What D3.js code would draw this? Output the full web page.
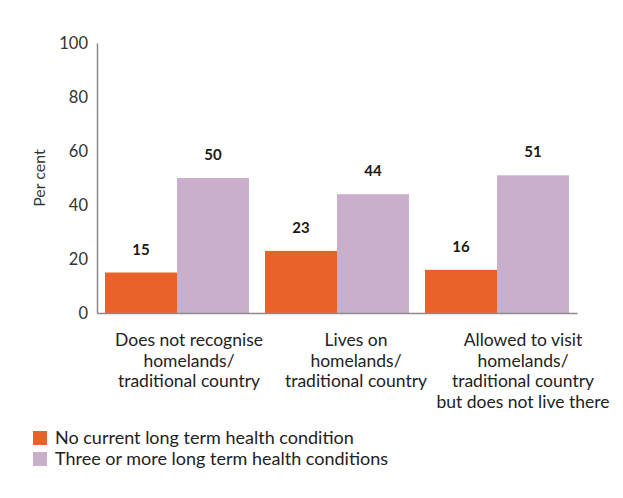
<!DOCTYPE html>
<html><head><meta charset="utf-8">
<script src="https://cdn.jsdelivr.net/npm/d3@7"></script>
<style>body{margin:0;background:#fff;}svg{display:block;font-family:Lato,"Open Sans",sans-serif;}</style>
</head><body>
<svg id="c" width="623" height="498"></svg>
<script>
const categories = [
  ["Does not recognise","homelands/","traditional country"],
  ["Lives on","homelands/","traditional country"],
  ["Allowed to visit","homelands/","traditional country","but does not live there"]
];
const seriesNames = ["No current long term health condition","Three or more long term health conditions"];
const noCondition = [15, 23, 16];
const threeOrMore = [50, 44, 51];
const yTicks = [0, 20, 40, 60, 80, 100];
const colors = ["#E8632A", "#C9AFCB"];

(function(){
const svg = d3.select("#c");
const mLeft = 97, mRight = 577, mTop = 43, mBottom = 313;
const idx = categories.map((d,i)=>i);
const x = d3.scaleBand().domain(idx).range([mLeft, mRight]).paddingInner(0.1).paddingOuter(0.05);
const xs = d3.scaleBand().domain([0,1]).range([0, x.bandwidth()]);
const y = d3.scaleLinear().domain([0,100]).range([mBottom, mTop]);
const xl = d3.scalePoint().domain(idx).range([189, 523]);

const series = [noCondition, threeOrMore];
series.forEach((vals, s) => {
  svg.append("g").selectAll("rect").data(vals).join("rect")
    .attr("x", (d,i)=>x(i)+xs(s))
    .attr("y", d=>y(d))
    .attr("width", xs.bandwidth())
    .attr("height", d=>y(0)-y(d))
    .attr("fill", colors[s]);
  svg.append("g").selectAll("text").data(vals).join("text")
    .attr("x", (d,i)=>x(i)+xs(s)+xs.bandwidth()/2)
    .attr("y", d=>y(d)-18)
    .attr("text-anchor","middle")
    .attr("font-size", 15).attr("font-weight", "bold").attr("fill", "#1a1a1a")
    .text(d=>d);
});

const yAxis = d3.axisLeft(y).tickValues(yTicks).tickSize(0).tickPadding(9);
const gy = svg.append("g").attr("transform", `translate(${mLeft},0)`).call(yAxis);
gy.select(".domain").attr("stroke", "#8a8a8a").attr("stroke-width", 1.5);
gy.selectAll("text").attr("font-size", 16.5).attr("fill", "#333").attr("font-family", "Lato, sans-serif");

const xAxis = d3.axisBottom(x).tickSize(0).tickFormat("");
const gx = svg.append("g").attr("transform", `translate(0,${mBottom})`).call(xAxis);
gx.select(".domain").attr("stroke", "#8a8a8a").attr("stroke-width", 1.5);

categories.forEach((lines, i) => {
  const t = svg.append("text").attr("text-anchor","middle").attr("font-size", 17.5).attr("fill", "#222");
  lines.forEach((ln, k) => {
    t.append("tspan").attr("x", xl(i)).attr("y", 346 + k*20.5).text(ln);
  });
});

svg.append("text").attr("transform", `translate(45,${(mTop+mBottom)/2}) rotate(-90)`)
  .attr("text-anchor","middle").attr("font-size", 16).attr("fill", "#333").text("Per cent");

const lg = svg.append("g").selectAll("g").data(seriesNames).join("g")
  .attr("transform", (d,i)=>`translate(33,${431 + i*21})`);
lg.append("rect").attr("width", 14).attr("height", 14).attr("fill", (d,i)=>colors[i]);
lg.append("text").attr("x", 22).attr("y", 13).attr("font-size", 18).attr("fill", "#222").text(d=>d);
})();
</script>
</body></html>
